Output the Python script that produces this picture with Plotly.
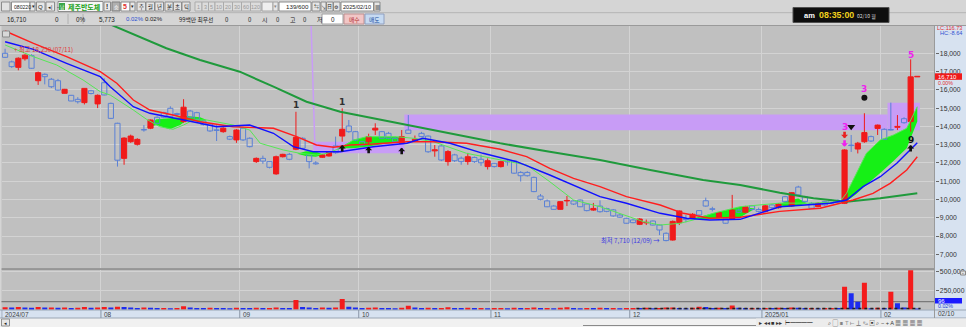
import plotly.graph_objects as go

W, H = 966, 327
FONT = "Liberation Sans, Noto Sans CJK KR, sans-serif"
KFONT = "Noto Sans CJK KR, Liberation Sans, sans-serif"

# ---------------- data ----------------
month_labels = ["2024/07", "08", "09", "10", "11", "12", "2025/01", "02"]
month_first_idx = [0, 15, 36, 54, 74, 95, 115, 133]

opens = [18000, 17530, 17230, 17700, 17870, 16500, 16850, 16580, 16500, 15810,
         15700, 15480, 15300, 15950, 15230, 16390, 15260, 14170, 12250, 13160,
         13020, 13820, 13900, 14500, 14750, 14990, 14700, 14260, 14840, 14750,
         14300, 14130, 13800, 13710, 13440, 13260, 13900, 13350, 12070, 12250,
         12070, 11400, 12340, 12470, 12750, 13350, 12440, 12000, 12310, 12380,
         12930, 13470, 14020, 13710, 13160, 13160, 13800, 13710, 13620, 13350,
         13070, 13800, 13200, 13620, 13470, 12660, 12930, 12070, 12440, 12260,
         12070, 12300, 12200, 11800, 11980, 11800, 12100, 12110, 11480, 11480,
         11210, 10190, 9920, 9640, 9460, 9920, 9920, 9970, 9750, 9420,
         9640, 9500, 9430, 9150, 8970, 8880, 8640, 8720, 8820, 8600,
         8150, 7780, 8730, 8950, 8970, 9390, 9930, 9480, 9030, 8970,
         8910, 9420, 9300, 9650, 9450, 9350, 9700, 9550, 10150, 9650,
         10680, 10150, 9790, 9610, 9880, 9950, 9950, 9790, 12980, 12760,
         13160, 13440, 13890, 13840, 13830, 13950, 14420, 14260, 16710]
highs = [18250, 17600, 17780, 17950, 17950, 17000, 16900, 16650, 16600, 16050,
         15720, 15600, 16100, 16000, 15750, 16630, 15300, 14200, 13400, 13550,
         13350, 14070, 14380, 14550, 14800, 15100, 14750, 15490, 14900, 14800,
         14350, 14150, 14070, 13950, 13500, 13850, 13950, 13400, 12300, 12400,
         12100, 12400, 12500, 12550, 14800, 13400, 12500, 12100, 12480, 12650,
         13440, 14990, 14350, 13750, 13200, 13600, 14170, 13750, 13700, 13400,
         13800, 14620, 13500, 13700, 13500, 12980, 13000, 12700, 12500, 12350,
         12550, 12350, 12450, 12250, 12000, 12120, 12180, 12150, 11550, 11550,
         11250, 10300, 10000, 9700, 9900, 10190, 9960, 10000, 9800, 9810,
         9950, 9550, 9480, 9200, 9000, 8950, 8980, 8900, 8850, 8620,
         8200, 8850, 9400, 9150, 9250, 9420, 10100, 9600, 9300, 9000,
         10250, 9500, 9650, 9700, 9550, 9700, 9750, 9800, 10200, 10400,
         10750, 10200, 9850, 9850, 9920, 10000, 10000, 12750, 13530, 13150,
         14720, 13500, 14100, 13900, 15300, 14620, 14500, 17670, 16710]
lows = [17750, 17200, 17070, 17600, 17150, 16270, 16300, 16100, 15950, 15800,
        15380, 15250, 15200, 15750, 15000, 15700, 14400, 11800, 11900, 13100,
        12950, 13710, 13850, 14100, 14450, 14500, 14550, 14200, 14450, 14300,
        14050, 13700, 13200, 13650, 13250, 13100, 13200, 12850, 12000, 11950,
        11700, 11350, 12300, 12150, 12700, 12750, 11700, 11900, 12270, 12350,
        12500, 13160, 13650, 13200, 12950, 13000, 13530, 13300, 13300, 13100,
        13050, 13600, 13150, 13400, 12550, 12340, 12100, 11850, 12050, 11900,
        11900, 12000, 11840, 11640, 11750, 11750, 11850, 11400, 10980, 11250,
        10400, 9950, 9580, 9440, 9440, 9640, 9700, 9580, 9350, 9380,
        9280, 9300, 9050, 9000, 8680, 8700, 8600, 8600, 8580, 8050,
        7710, 7750, 8600, 8750, 8950, 9100, 9600, 9350, 9000, 8680,
        8880, 9250, 9250, 9400, 9300, 9300, 9500, 9500, 9850, 9600,
        10200, 9850, 9500, 9580, 9650, 9750, 9800, 9750, 12600, 12520,
        13100, 13150, 13530, 13250, 13780, 13800, 14150, 13710, 16710]
closes = [17780, 17270, 17730, 17900, 17180, 16940, 16720, 16170, 15990, 16030,
          15390, 15350, 16080, 15800, 15700, 15720, 14440, 12150, 13360, 13470,
          13290, 13800, 14350, 14170, 14500, 14530, 14650, 15050, 14500, 14390,
          14100, 13750, 13780, 13900, 13300, 13800, 13260, 12890, 12250, 12100,
          11760, 12340, 12470, 12200, 13400, 12800, 12070, 11950, 12440, 12620,
          12560, 13840, 13710, 13250, 12980, 13440, 13900, 13350, 13350, 13160,
          13440, 13620, 13300, 13440, 12610, 12720, 12160, 12620, 12120, 12070,
          12340, 12070, 12010, 12120, 11800, 12070, 12050, 11440, 11300, 11300,
          10430, 10010, 9600, 9460, 9880, 9940, 9750, 9600, 9390, 9510,
          9330, 9350, 9100, 9030, 8700, 8730, 8930, 8750, 8600, 8330,
          7750, 8800, 9370, 8900, 9190, 9150, 9640, 9460, 9280, 8700,
          9420, 9300, 9600, 9450, 9350, 9650, 9550, 9750, 9880, 10370,
          10250, 9880, 9520, 9790, 9700, 9800, 9850, 12710, 12950, 13080,
          13660, 13200, 14070, 13290, 13800, 14000, 14200, 16710, 16710]
volumes_k = [32, 28, 36, 30, 26, 34, 28, 30, 26, 30, 22, 26, 34, 26, 30,
             36, 30, 40, 34, 28, 24, 28, 26, 22, 24, 20, 22, 45, 28, 24, 22, 26, 24, 22, 20, 26,
             24, 22, 26, 22, 24, 30, 24, 22, 127, 35, 28, 24, 30, 26, 30, 141, 40, 30,
             22, 26, 30, 24, 22, 20, 26, 53, 28, 24, 26, 22, 24, 32, 24, 22, 26, 22, 24, 20,
             22, 24, 20, 26, 22, 24, 28, 22, 24, 20, 26, 32, 22, 20, 24, 22, 26, 22, 24, 20, 22,
             24, 22, 26, 20, 24, 28, 30, 24, 20, 26, 40, 36, 22, 26, 22, 55, 26, 22, 24, 20, 24,
             22, 26, 24, 30, 26, 22, 24, 20, 22, 24, 22, 303, 216, 105, 355, 20, 26, 22, 237, 84, 30, 520, 6]

# moving-average lines (sampled along the drawn lines)
ma_red_idx = [0, 4.3, 9.3, 14.4, 16.9, 19.4, 21.9, 25.4, 29.5, 34.5, 40.6, 44.1, 47.1, 49.7, 52.2, 55.7,
              60.8, 64.8, 69.8, 74.9, 78.9, 82.4, 86.0, 90.0, 94.0, 99.1, 102.6, 106.6, 111.2, 117.2,
              123.3, 126.3, 128.3, 131.3, 133.9, 136.4, 138.0]
ma_red = [19220, 18547, 17814, 16993, 16358, 15444, 14897, 14623, 14257, 13983, 13895, 13436, 12981, 12855,
          12981, 13036, 13162, 13162, 13075, 12746, 12341, 11706, 11150, 10700, 10152, 9698, 9243, 8970,
          9024, 9350, 9517, 9791, 9971, 10338, 10885, 11614, 12341]
ma_blue_idx = [0, 4.3, 9.3, 14.4, 15.9, 19.4, 21.9, 26.0, 29.5, 32.0, 37.0, 40.6, 43.6, 46.6, 50.7, 55.7,
               60.8, 63.2, 67.3, 72.3, 77.4, 82.4, 90.0, 94.0, 99.1, 103.1, 106.6, 111.2, 117.2, 124.8,
               127.3, 129.8, 132.4, 134.9, 136.4, 138.0]
ma_blue = [18635, 18219, 17453, 16719, 16172, 15077, 14716, 14443, 14169, 13983, 14076, 13622, 12888, 12615,
           12615, 12888, 13075, 13348, 13075, 12527, 12067, 11340, 10152, 9791, 9243, 8970, 8877, 8915,
           9600, 9791, 9971, 10699, 11246, 11980, 12527, 13107]
ma_fast_idx = [0, 4.3, 7.8, 11.8, 14.4, 15.9, 19.4, 21.4, 23.4, 25.4, 27.0, 28.5, 30.5, 34.5, 37.0, 38.6,
               42.1, 44.6, 47.1, 48.7, 50.7, 52.7, 54.7, 59.2, 61.8, 64.8, 69.8, 76.4, 78.9, 82.4, 86.0,
               90.0, 91.5, 96.6, 99.1, 102.1, 104.1, 107.1, 111.2, 117.2, 122.3, 126.3, 127.3, 128.8,
               130.3, 132.4, 134.4, 136.4, 138.0]
ma_fast = [18454, 17814, 17360, 16539, 15898, 15718, 14897, 14388, 13983, 13841, 14076, 14350, 14350, 14076,
           13803, 13075, 12708, 12527, 12434, 12527, 12801, 13255, 13436, 13436, 13348, 13162, 12527, 12067,
           11887, 10973, 9971, 9605, 9424, 8784, 8603, 8696, 8877, 9243, 9605, 9800, 9800, 9880, 10338,
           11433, 12527, 13255, 13529, 13895, 15080]
ma_long_idx = [14.0, 17.9, 24.4, 29.5, 35.5, 40.6, 45.6, 50.7, 55.7, 60.8, 64.8, 74.9, 82.4, 90.0, 97.6,
               105.6, 111.2, 117.2, 122.3, 127.3, 132.4, 138.0]
ma_long = [19875, 19275, 18274, 17633, 16993, 16172, 15351, 14804, 14443, 14076, 13803, 13075, 12615, 12161,
           11614, 11066, 10792, 10371, 10064, 9878, 10064, 10338]

# green "cloud" regions (upper / lower edges)
cloud_idx = [[21.4, 22.9, 24.9, 26.5, 27.5, 29.5, 30.5],
             [44.2, 45.5, 47.0, 48.2],
             [50.4, 52.7, 54.7, 57.2, 59.2, 60.4],
             [103.1, 105.1, 107.1, 109.2, 111.2, 113.5],
             [116.8, 118.5, 120.0, 121.3],
             [126.7, 127.3, 128.8, 130.3, 132.4, 134.4, 136.4, 138.0]]
cloud_upper = [[13940, 14388, 14443, 14498, 14568, 14498, 14350],
               [12500, 12640, 12620, 12450],
               [12801, 13255, 13436, 13436, 13436, 13300],
               [8915, 9060, 9243, 9424, 9605, 9500],
               [9700, 9950, 10050, 9800],
               [9800, 10338, 11433, 12527, 13255, 13529, 13895, 15080]]
cloud_lower = [[13940, 14076, 13841, 14076, 14350, 14257, 14350],
               [12500, 12380, 12340, 12450],
               [12801, 12801, 12888, 13036, 13107, 13300],
               [8915, 8930, 8950, 8970, 9024, 9500],
               [9700, 9600, 9650, 9800],
               [9800, 9900, 10300, 10800, 11450, 12100, 12800, 14270]]

# lavender box zones: (start idx, end idx, low, high)
box_start = [46.6, 60.4, 133.5]
box_end = [60.4, 133.5, 138.4]
box_low = [12527, 13790, 13790]
box_high = [13162, 14650, 15300]
box_line_idx = [46.3, 46.9]
box_line_val = [19494, 12527]

# signals
num_idx = [44, 51, 127, 130, 137, 137]
num_val = [15170, 15351, 13983, 16030, 17907, 13255]
num_txt = ["1", "1", "3", "3", "5", "9"]
num_col = ["#303030", "#303030", "#ee22ee", "#ee22ee", "#ee22ee", "#101010"]
up_arrow_idx = [51, 55, 60, 137]
up_arrow_tip = [12981, 12888, 12833, 12981]
down_arrow_idx = [127, 127]
down_arrow_tip = [13348, 12888]
down_arrow_col = ["#e82020", "#ee22ee"]
tri_idx, tri_val = [128], [13980]
dot_idx, dot_val = [130], [15570]

hi_label_idx, hi_label_val = 1.0, 18219
lo_label_idx, lo_label_val = 99.4, 7744
vol_ref_level = 105000
strip_idx = [95.5, 138.5]
strip_val = [13000, 13000]

price_ticks = list(range(7000, 19000, 1000))
vol_ticks = [250000, 500000]

# ---------------- geometry ----------------
S = 6.61           # px per candle
X0 = 5.1           # px of candle 0
PL, PR = 1.5, 934.5
xr = [(PL - X0) / S, (PR - X0) / S]
def p2v(y):  # pixel -> price (axis calibration)
    return 18000 - (y - 53.3) * 54.73
PY_TOP, PY_BOT = 26, 268
VY_TOP, VY_BOT = 269.5, 309.7
vol_max = 500000 * (VY_BOT - VY_TOP) / 38.0

RED = "#f01a1a"
BLUE = "#5a80d6"
BG = "#c0c0c0"
GRID = "#d3d3d3"
PANEL = "#d7e2f0"

fig = go.Figure()
idx = list(range(len(opens)))

def wicks(sel):
    xs, ys = [], []
    for i in idx:
        if not sel(i):
            continue
        top = max(opens[i], closes[i]); bot = min(opens[i], closes[i])
        if highs[i] > top:
            xs += [i, i, None]; ys += [top, highs[i], None]
        if lows[i] < bot:
            xs += [i, i, None]; ys += [lows[i], bot, None]
    return xs, ys

is_up = lambda i: closes[i] >= opens[i]
is_dn = lambda i: closes[i] < opens[i]

for sel, col in [(is_up, RED), (is_dn, BLUE)]:
    wx, wy = wicks(sel)
    fig.add_trace(go.Scatter(x=wx, y=wy, mode="lines", line=dict(color=col, width=1),
                             hoverinfo="skip", xaxis="x", yaxis="y"))

for sel, fill, col in [(is_up, RED, RED), (is_dn, "rgba(0,0,0,0)", BLUE)]:
    xs = [i for i in idx if sel(i)]
    base = [min(opens[i], closes[i]) for i in xs]
    hgt = [max(abs(closes[i] - opens[i]), 30) for i in xs]
    fig.add_trace(go.Bar(x=xs, y=hgt, base=base, width=0.78,
                         marker=dict(color=fill, line=dict(color=col, width=1)),
                         xaxis="x", yaxis="y", hoverinfo="skip"))

# moving averages
fig.add_trace(go.Scatter(x=ma_long_idx, y=ma_long, mode="lines", line=dict(color="#1f9a3c", width=2)))
fig.add_trace(go.Scatter(x=ma_fast_idx, y=ma_fast, mode="lines", line=dict(color="#55e655", width=1)))
fig.add_trace(go.Scatter(x=ma_red_idx, y=ma_red, mode="lines", line=dict(color="#ff1e1e", width=1.4)))
fig.add_trace(go.Scatter(x=ma_blue_idx, y=ma_blue, mode="lines", line=dict(color="#1010ff", width=1.4)))

# signal markers
fig.add_trace(go.Scatter(x=tri_idx, y=tri_val, mode="markers",
                         marker=dict(symbol="triangle-down", size=7, color="#111")))
fig.add_trace(go.Scatter(x=dot_idx, y=dot_val, mode="markers",
                         marker=dict(symbol="circle", size=6, color="#111")))

# volume
vcol = []
for k, v in enumerate(volumes_k):
    prev = volumes_k[k - 1] if k > 0 else v
    vcol.append("#f41c1c" if v >= prev else "#1c2cf0")
fig.add_trace(go.Bar(x=idx, y=[v * 1000 for v in volumes_k], width=0.76,
                     marker=dict(color=vcol, line=dict(width=0)), xaxis="x2", yaxis="y2"))
fig.add_trace(go.Scatter(x=strip_idx, y=strip_val, mode="lines",
                         line=dict(color="#202020", width=2, dash="dot"), xaxis="x2", yaxis="y2"))

month_ticks = [m - 0.5 for m in month_first_idx]
TICKF = dict(size=6.8, color="#333", family=FONT)

fig.update_layout(
    width=W, height=H, margin=dict(l=0, r=0, t=0, b=0),
    paper_bgcolor="#d5d5d5", plot_bgcolor=BG, showlegend=False, barmode="overlay",
    xaxis=dict(domain=[PL / W, PR / W], range=xr, anchor="y", tickvals=month_ticks[1:],
               showticklabels=False, ticks="", showgrid=True, gridcolor=GRID, gridwidth=1,
               zeroline=False, showline=False, fixedrange=True),
    xaxis2=dict(domain=[PL / W, PR / W], range=xr, anchor="y2", tickvals=month_ticks[1:],
                showticklabels=False, ticks="", showgrid=True, gridcolor=GRID, gridwidth=1,
                zeroline=False, showline=False, matches="x"),
    yaxis=dict(domain=[1 - PY_BOT / H, 1 - PY_TOP / H], range=[p2v(PY_BOT), p2v(PY_TOP)], side="right",
               anchor="x", tickvals=price_ticks, ticktext=[f"{v:,}" for v in price_ticks],
               ticks="outside", ticklen=3, tickcolor="#666", tickfont=TICKF,
               showgrid=True, gridcolor=GRID, zeroline=False, showline=False),
    yaxis2=dict(domain=[1 - VY_BOT / H, 1 - VY_TOP / H], range=[0, vol_max], side="right", anchor="x2",
                tickvals=vol_ticks, ticktext=[f"{v:,}" for v in vol_ticks], ticks="outside", ticklen=3,
                tickcolor="#666", tickfont=TICKF,
                showgrid=True, gridcolor=GRID, zeroline=False, showline=False),
)

shapes, annos = [], []

def rect(x0, y0, x1, y1, fill, line=None, lw=1, layer="above"):
    shapes.append(dict(type="rect", xref="paper", yref="paper", x0=x0 / W, x1=x1 / W,
                       y0=1 - y1 / H, y1=1 - y0 / H, fillcolor=fill, layer=layer,
                       line=dict(color=line if line else fill, width=lw if line else 0)))

def hline(x0, x1, y, col, lw=1, layer="above"):
    shapes.append(dict(type="line", xref="paper", yref="paper", x0=x0 / W, x1=x1 / W,
                       y0=1 - y / H, y1=1 - y / H, line=dict(color=col, width=lw), layer=layer))

def vline(x, y0, y1, col, lw=1, layer="above"):
    shapes.append(dict(type="line", xref="paper", yref="paper", x0=x / W, x1=x / W,
                       y0=1 - y0 / H, y1=1 - y1 / H, line=dict(color=col, width=lw), layer=layer))

def text(x, y, s, size=6.2, color="#222", anchor="left", bold=False, family=FONT):
    if bold:
        s = "<b>" + s + "</b>"
    annos.append(dict(xref="paper", yref="paper", x=x / W, y=1 - y / H, text=s, showarrow=False,
                      xanchor=anchor, yanchor="middle", borderpad=0,
                      font=dict(size=size, color=color, family=family)))

# panels / background pieces
rect(PR, PY_TOP, W, 318, PANEL, layer="below")
rect(0, 310, PR, 318, PANEL, layer="below")
rect(0, 318, W, H, "#f1f1f1", layer="below")
hline(0, W, 12.7, "#b4b4b4")
hline(0, W, 25.5, "#9a9a9a")
hline(PL, PR, 269, "#858585", 1.5)
hline(0, W, 310, "#9aa6b4")
hline(0, W, 318, "#9aa6b4")
vline(PR, PY_TOP, 318, "#9a9a9a")
rect(2.5, 31, 9.5, 37, "#d8d8d8", "#8a8a8a")

# data-coordinate fills (lavender boxes, green clouds)
for a, b, lo, hi in zip(box_start, box_end, box_low, box_high):
    shapes.append(dict(type="rect", xref="x", yref="y", x0=a, x1=b, y0=lo, y1=hi,
                       fillcolor="#c89cf6", line=dict(width=0), layer="between"))
shapes.append(dict(type="line", xref="x", yref="y", x0=box_line_idx[0], x1=box_line_idx[1],
                   y0=box_line_val[0], y1=box_line_val[1], line=dict(color="#c89cf6", width=1.5),
                   layer="between"))
for cx, cu, cl in zip(cloud_idx, cloud_upper, cloud_lower):
    pts = list(zip(cx, cu)) + list(zip(cx[::-1], cl[::-1]))
    path = "M " + " L ".join(f"{x},{y}" for x, y in pts) + " Z"
    shapes.append(dict(type="path", xref="x", yref="y", path=path, fillcolor="#16f016",
                       line=dict(width=0), layer="between"))

# volume reference line
shapes.append(dict(type="line", xref="paper", yref="y2", x0=PL / W, x1=PR / W, y0=vol_ref_level,
                   y1=vol_ref_level, line=dict(color="#7a7a7a", width=1.3), layer="between"))

# month ticks and labels
for t, lab in zip(month_ticks, month_labels):
    shapes.append(dict(type="line", xref="x", yref="paper", x0=t, x1=t, y0=1 - 318 / H, y1=1 - 310 / H,
                       line=dict(color="#8a96a6", width=1)))
    annos.append(dict(xref="x", yref="paper", x=t, y=1 - 314 / H, text=lab, showarrow=False, xanchor="left",
                      yanchor="middle", xshift=1, font=dict(size=6.5, color="#444", family=FONT)))

# signal texts and arrows
for i, v, s, c in zip(num_idx, num_val, num_txt, num_col):
    annos.append(dict(xref="x", yref="y", x=i, y=v, text="<b>" + s + "</b>", showarrow=False,
                      font=dict(size=9, color=c, family="DejaVu Sans")))
for i, v in zip(up_arrow_idx, up_arrow_tip):
    annos.append(dict(xref="x", yref="y", x=i, y=v, ax=0, ay=8, text="", showarrow=True, arrowhead=1,
                      arrowsize=0.45, arrowwidth=2.6, arrowcolor="#111", standoff=0))
for i, v, c in zip(down_arrow_idx, down_arrow_tip, down_arrow_col):
    annos.append(dict(xref="x", yref="y", x=i, y=v, ax=0, ay=-8, text="", showarrow=True, arrowhead=1,
                      arrowsize=0.45, arrowwidth=2.6, arrowcolor=c, standoff=0))
annos.append(dict(xref="x", yref="y", x=hi_label_idx, y=hi_label_val, text="+ 최고 18,250 (07/11)",
                  showarrow=False, xanchor="left", font=dict(size=6.3, color="#e03a3a", family=KFONT)))
annos.append(dict(xref="x", yref="y", x=lo_label_idx, y=lo_label_val, text="최저 7,710 (12/09) →",
                  showarrow=False, xanchor="right", font=dict(size=6.3, color="#3a3ae0", family=KFONT)))

# ---------------- toolbar (row 1) ----------------
rect(1.5, 2, 10, 11, "#e2e2e2", "#8c8c8c")
rect(11.5, 2, 30, 11, "#ffffff", "#8c8c8c"); text(12.6, 6.7, "080220", 5.1)
rect(30, 2, 35, 11, "#e8e8e8", "#8c8c8c"); text(33.4, 6.7, "▾", 4.5, anchor="center")
rect(36.5, 2, 45, 11, "#e8e8e8", "#8c8c8c"); text(40.7, 6.7, "Q", 6, anchor="center")
rect(46, 2, 54.5, 11, "#e8e8e8", "#8c8c8c"); text(50.2, 6.7, "◂|", 5, anchor="center")
text(55.5, 6.7, "-", 6)
rect(58, 1.5, 103, 11.5, "#f6f6f6", "#8c8c8c")
rect(59, 3, 65, 10, "#3aa648"); text(62, 6.7, "남", 4.6, "#ffffff", anchor="center", family=KFONT)
text(66.5, 6.7, "제주반도체", 7, "#16a016", bold=True, family=KFONT)
rect(104, 2, 110.5, 11, "#e8e8e8", "#8c8c8c"); text(107.3, 6.7, "!", 6.5, bold=True, anchor="center")
rect(112, 2, 120, 11, "#b0b0b0", "#808080"); text(116, 6.7, "숨", 5, "#ffffff", anchor="center", family=KFONT)
rect(121, 2, 130, 11, "#ffffff", "#8c8c8c"); text(125.5, 6.7, "5", 7, "#e03030", anchor="center", bold=True)
rect(130, 2, 135, 11, "#e8e8e8", "#8c8c8c"); text(132.5, 6.7, "▾", 4.5, anchor="center")
for (a, b), s in zip([(137, 145.5), (146, 154.5), (155, 163.5), (165, 173), (173.5, 181.5), (182, 190)],
                     ["주", "월", "년", "분", "초", "틱"]):
    rect(a, 2, b, 11, "#e4e4e4", "#8c8c8c"); text((a + b) / 2, 6.7, s, 5.4, anchor="center", family=KFONT)
for (a, b), s in zip([(195, 202), (202, 208.5), (208.5, 215), (215, 223.5), (223.5, 232.5), (232.5, 241.5),
                      (241.5, 250.5), (250.5, 261)], ["1", "3", "5", "10", "20", "30", "60", "120"]):
    rect(a, 2, b, 11, "#dcdcdc", "#ababab"); text((a + b) / 2, 6.7, s, 5.4, "#9a9a9a", anchor="center")
rect(262, 2, 273, 11, "#efefef", "#a4a4a4"); rect(273, 2, 278, 11, "#e6e6e6", "#a4a4a4")
text(275.5, 6.7, "▾", 4.5, "#888", anchor="center")
rect(279, 2, 311, 11, "#ffffff", "#8c8c8c"); text(310, 6.7, "139/600", 6.2, anchor="right")
for (a, b), s in zip([(312, 320), (321, 326), (326.5, 333), (333.5, 340)], ["⇆", "↘", "日", "⚙"]):
    rect(a, 2, b, 11, "#e6e6e6", "#8c8c8c"); text((a + b) / 2, 6.7, s, 5, anchor="center")
rect(341, 2, 373.5, 11, "#ffffff", "#8c8c8c"); text(342, 6.7, "2025/02/10", 5.6)
rect(374, 2, 380, 11, "#e6e6e6", "#8c8c8c"); text(377, 6.7, "▦", 5, anchor="center")

# ---------------- toolbar (row 2) ----------------
text(6, 19.2, "16,710", 6.3)
text(54, 19.2, "0", 6.3)
vline(68, 14, 24, "#b0b0b0"); vline(83, 14, 24, "#b0b0b0")
text(75, 19.2, "0%", 6.3)
text(98, 19.2, "5,773", 6.3)
text(124.5, 19.2, "0.02%", 6, "#2a4fd0")
text(144, 19.2, "0.02%", 6)
text(178, 19.2, "99백만 최우선", 5.8, family=KFONT)
for x, s in [(224, "0"), (247, "0"), (261, "시"), (274.5, "0"), (288.5, "고"), (302, "0"), (316, "저")]:
    text(x, 19.2, s, 6, family=KFONT)
rect(322, 14, 343, 24, "#ffffff", "#a0a0a0"); text(332.5, 19.2, "0", 6.3, anchor="center")
rect(344, 14, 364, 24, "#f2c6c6", "#c09090"); text(354, 19.2, "매수", 5.8, "#b02a2a", anchor="center", family=KFONT)
rect(365, 14, 384, 24, "#c6daf2", "#90a0c0"); text(374.5, 19.2, "매도", 5.8, "#2050a0", anchor="center", family=KFONT)

# clock
rect(793, 7.5, 889, 22.5, "#0e0e0e", "#505050")
text(802.5, 15.2, "am", 7.5, "#ffffff", bold=True)
text(817.5, 15.2, "08:35:00", 8.8, "#f2d21c", bold=True)
text(855.5, 15.7, "02/10 월", 5, "#dddddd", family=KFONT)

# right panel labels
text(963, 28.3, "LC:116.73", 5.6, "#e03030", anchor="right")
text(963, 32.8, "HC:-8.64", 5.6, "#3050d0", anchor="right")
rect(935, 73.3, 962, 79.8, "#f01a1a"); text(936.5, 76.6, "16,710", 6, "#ffffff")
text(936.5, 83.2, "0.00%", 5.3, "#e03030")
rect(960.5, 271, 965.5, 275, "#e0e0e0", "#888"); text(963, 273, "-", 5, anchor="center")
rect(935, 298, 962, 303.5, "#1a1aff"); text(936.5, 300.8, "96", 6, "#ffffff")
text(936.5, 306.3, "0.02%", 5.3, "#2040d0")
text(937, 313.8, "02/10", 6.5, "#444")

# bottom bar
rect(1.5, 319, 9.5, 326, "#e6e6e6", "#909090"); text(5.5, 322.6, "◂", 5, anchor="center")
hline(583, 756, 325.5, "#8a8a8a")
rect(756, 318.5, 966, 327, "#ececec")
text(758, 322.8, "▸ ◂◂ ■ ▸▸  ⊢━━━━", 5.6, "#333")
text(827, 322.8, "⌕ ▢ ≡ ⊤ ⊢ ⊥ ✎ ▣ ⌕ − + A ▦ ▦ ▦ ▦", 5.6, "#333")

fig.update_layout(shapes=shapes, annotations=annos)
fig.write_html("out.html")
